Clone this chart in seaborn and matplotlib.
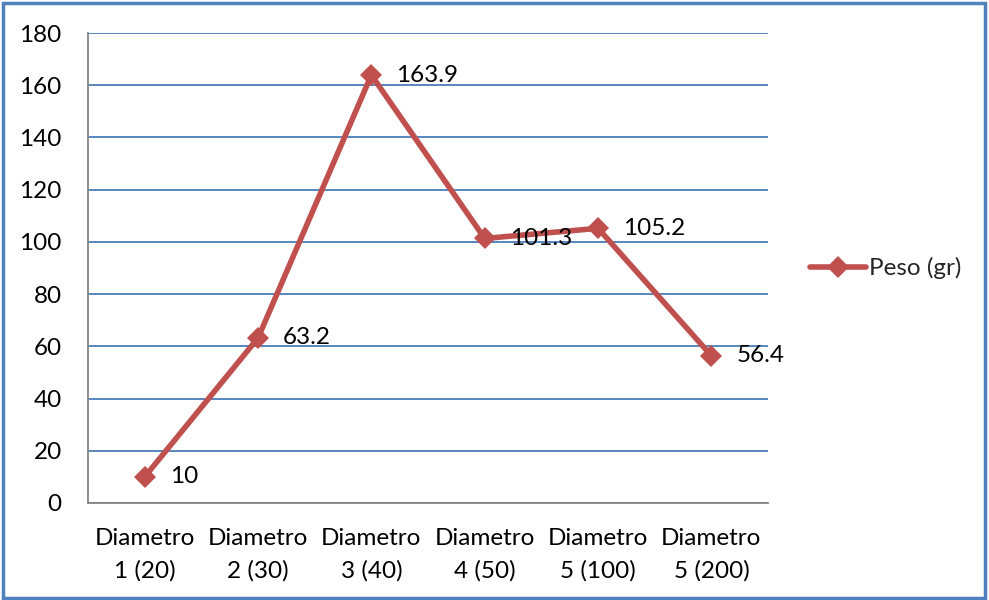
import matplotlib
matplotlib.use("Agg")
import matplotlib.pyplot as plt
from matplotlib.patches import Rectangle
import seaborn as sns
import pandas as pd

categories = ["Diametro\n1 (20)", "Diametro\n2 (30)", "Diametro\n3 (40)",
              "Diametro\n4 (50)", "Diametro\n5 (100)", "Diametro\n5 (200)"]
peso = [10, 63.2, 163.9, 101.3, 105.2, 56.4]
value_labels = ["10", "63.2", "163.9", "101.3", "105.2", "56.4"]
y_ticks = [0, 20, 40, 60, 80, 100, 120, 140, 160, 180]
series_name = "Peso (gr)"

sns.set_theme(style="white")
plt.rcParams["font.family"] = ["Lato", "DejaVu Sans"]
FS = 17.5

df = pd.DataFrame({"Diametro": categories, series_name: peso})

fig = plt.figure(figsize=(9.89, 6.0), dpi=100)
ax = fig.add_axes([0.089, 0.1617, 0.6876, 0.7833])

red = "#c0504d"
sns.lineplot(data=df, x="Diametro", y=series_name, ax=ax, color=red,
             linewidth=4, marker="D", markersize=11, markeredgewidth=0,
             label=series_name, sort=False)

ax.set_xlim(-0.5, len(categories) - 0.5)
ax.set_ylim(0, 180)
ax.set_yticks(y_ticks)
ax.set_yticklabels([str(t) for t in y_ticks])
ax.set_xticks(range(len(categories)))
ax.set_xticklabels(categories, linespacing=1.65)
ax.tick_params(axis="both", length=0, labelsize=FS, colors="black")
ax.tick_params(axis="x", pad=18)
ax.tick_params(axis="y", pad=19)
ax.set_xlabel("")
ax.set_ylabel("")

ax.yaxis.grid(True, color="#4a7ebb", linewidth=1.3)
ax.set_axisbelow(True)
for side in ["top", "right"]:
    ax.spines[side].set_visible(False)
for side in ["left", "bottom"]:
    ax.spines[side].set_color("#868686")
    ax.spines[side].set_linewidth(1.3)

for i, (v, lab) in enumerate(zip(peso, value_labels)):
    ax.annotate(lab, (i, v), xytext=(18, 0), textcoords="offset points",
                ha="left", va="center", fontsize=FS, color="black")

leg = ax.legend(loc="center left", bbox_to_anchor=(1.03, 0.5), frameon=False,
                fontsize=FS, handlelength=2.3, handletextpad=0.1)

fig.patches.append(Rectangle((0.003, 0.004), 0.993, 0.991, transform=fig.transFigure,
                             fill=False, edgecolor="#4f81bd", linewidth=2.5))

fig.savefig("out.png", dpi=100)
